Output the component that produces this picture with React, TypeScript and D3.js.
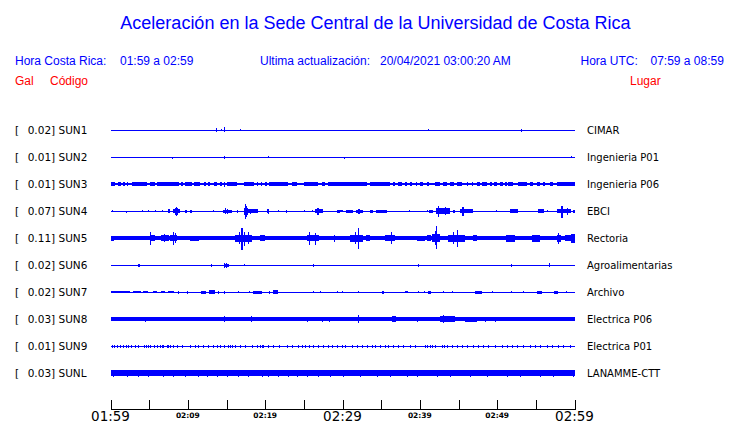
import React from "react";
import * as d3 from "d3";

// ---------- DATA ----------
const stations = ["SUN1", "SUN2", "SUN3", "SUN4", "SUN5", "SUN6", "SUN7", "SUN8", "SUN9", "SUNL"];
const peakGal = ["0.02", "0.01", "0.01", "0.07", "0.11", "0.02", "0.02", "0.03", "0.01", "0.03"];
const places = ["CIMAR", "Ingenieria P01", "Ingenieria P06", "EBCI", "Rectoria", "Agroalimentarias", "Archivo", "Electrica P06", "Electrica P01", "LANAMME-CTT"];
// background noise half-amplitude of each trace (relative units)
const baseAmp = [0.5, 0.5, 1, 0.5, 2, 0.5, 0.5, 1.7, 0.5, 2.7];

// events: [startMinute, endMinute, amplitudeUp, amplitudeDown]
type Ev = [number, number, number, number];
const sun1Events: Ev[] = [
  [13.7, 13.7, 2, 2], [14.3, 14.3, 1, 1], [14.7, 14.7, 3, 2], [16.7, 16.7, 1, 1],
  [41.0, 41.0, 1, 0], [53.1, 53.1, 1.5, 1.5],
];
const sun2Events: Ev[] = [
  [7.9, 7.9, 0, 1.5], [14.7, 14.7, 1.5, 1.5], [20.4, 20.4, 1, 0], [30.2, 30.2, 0, 1.5], [59.5, 59.5, 1, 0],
];
const sun3Events: Ev[] = [
  [0, 0.58, 1.7, 1.7], [1.01, 1.36, 1.7, 1.7], [1.66, 1.88, 1.7, 1.7], [2.09, 2.31, 1.7, 1.7], [2.74, 4.68, 1.7, 1.7],
  [5.11, 5.76, 1.7, 1.7], [5.97, 8.86, 1.7, 1.7], [9.12, 9.42, 1.7, 1.7], [9.63, 10.58, 1.7, 1.7], [10.84, 11.57, 1.7, 1.7],
  [12.13, 12.35, 1.7, 1.7], [12.65, 12.87, 1.7, 1.7], [13.43, 13.73, 1.7, 1.7], [14.16, 14.38, 1.7, 1.7], [14.72, 14.72, 1.7, 3],
  [15.02, 16.32, 1.7, 1.7], [17.31, 18.6, 1.7, 1.7], [18.9, 19.12, 1.7, 1.7], [19.46, 19.63, 1.7, 1.7], [19.98, 20.2, 1.7, 1.7],
  [20.5, 23.0, 1.7, 1.7], [23.43, 24.07, 1.7, 1.7], [25.07, 26.88, 1.7, 1.7], [27.31, 27.74, 1.7, 1.7], [28.08, 30.32, 1.7, 1.7],
  [29.68, 33.13, 1.7, 1.7], [33.56, 36.15, 1.7, 1.7], [36.49, 36.79, 1.7, 1.7], [37.22, 37.65, 1.7, 1.7], [38.09, 38.3, 1.7, 1.7],
  [38.73, 38.95, 1.7, 1.7], [39.51, 39.51, 1.7, 1.7], [40.02, 40.46, 1.7, 1.7], [40.97, 41.23, 1.7, 1.7], [41.96, 42.61, 1.7, 1.7],
  [43.04, 43.47, 1.7, 1.7], [43.9, 44.42, 1.7, 1.7], [44.77, 45.41, 1.7, 1.7], [46.06, 46.28, 1.7, 1.7], [46.71, 46.92, 1.7, 1.7],
  [47.35, 47.78, 1.7, 1.7], [48.0, 48.65, 1.7, 1.7], [49.08, 49.29, 1.7, 1.7], [49.59, 49.94, 1.7, 1.7], [50.37, 50.8, 1.7, 1.7],
  [51.02, 51.23, 1.7, 1.7], [51.45, 52.09, 1.7, 1.7], [52.74, 53.82, 1.7, 1.7], [54.25, 54.68, 1.7, 1.7], [55.11, 55.54, 1.7, 1.7],
  [55.97, 56.19, 1.7, 1.7], [56.84, 57.27, 1.7, 1.7], [57.7, 60, 1.7, 1.7],
];
const sun4Events: Ev[] = [
  [0.2, 0.2, 1, 1], [1.96, 1.96, 0, 1.5], [4.1, 4.1, 1, 1], [4.9, 4.9, 1, 1], [5.75, 5.75, 1, 1],
  [6.6, 6.6, 1, 1], [7.4, 7.7, 2, 2], [8.1, 9.0, 2, 2], [8.3, 8.7, 3, 3.5], [8.45, 8.55, 4, 5], [9.6, 9.85, 1.5, 1.5],
  [10.3, 10.5, 1.5, 1.5], [13.3, 13.3, 1, 1], [14.6, 15.7, 1.5, 1.5], [14.8, 14.8, 3, 3], [15.1, 15.1, 2, 2.5], [16.4, 16.4, 1, 1.5],
  [17.2, 17.8, 3.5, 3.5], [17.35, 17.45, 7, 7.7], [17.55, 17.6, 5, 5.5], [17.8, 19.1, 2, 2], [18.1, 18.2, 2.5, 3], [20.2, 20.5, 2, 2], [20.35, 20.35, 2.5, 3],
  [21.6, 21.6, 1, 1], [22.7, 22.7, 1.5, 1.5], [25.0, 25.0, 1, 1], [26.0, 26.0, 1, 1], [26.4, 27.5, 2, 2],
  [26.7, 26.9, 3, 4], [29.3, 29.7, 1.5, 1.5], [29.7, 30.1, 1, 1], [30.5, 31.4, 1.5, 1.5], [31.8, 32.7, 1.5, 1.5],
  [32.0, 32.2, 2.5, 3], [33.6, 34.0, 1.5, 1.5], [34.3, 35.7, 1.5, 1.5], [38.6, 38.6, 1, 1], [40.9, 40.9, 1, 0],
  [41.2, 41.7, 1.5, 1.5], [42.1, 43.9, 3, 3], [42.3, 42.5, 5, 5.7], [43.2, 43.3, 4, 4], [44.3, 44.5, 1.5, 1.5],
  [45.2, 46.9, 2, 2], [45.5, 45.7, 4, 4.5], [49.9, 49.9, 1, 0], [51.7, 52.7, 2, 2], [55.3, 56.1, 2, 2],
  [56.4, 56.4, 1, 1], [57.7, 59.6, 2, 2], [58.3, 58.5, 5, 6.7], [59.0, 59.1, 3, 3.5], [59.8, 60, 1.5, 1.5],
];
const sun5Events: Ev[] = [
  [0, 0.5, 2.5, 2.5], [5.1, 5.7, 3, 3], [5.1, 5.2, 6, 6.7], [6.55, 7.5, 3, 3], [6.9, 7.0, 4, 4],
  [7.7, 8.55, 3, 3], [8.05, 8.15, 6, 7.3], [8.3, 8.4, 5, 5], [10.3, 11.4, 2.5, 2.5], [16.1, 18.3, 3.5, 3.5],
  [16.9, 17.1, 9.7, 12], [16.6, 16.7, 6, 6], [17.3, 17.4, 6, 8], [17.8, 17.9, 6, 6], [19.3, 20.0, 3, 3], [25.4, 26.9, 3, 3],
  [25.7, 25.8, 6, 7.3], [26.4, 26.5, 5, 6.5], [28.9, 29.0, 3.5, 3.5], [31.0, 32.7, 3.5, 3.5], [31.6, 31.7, 6, 6],
  [32.0, 32.1, 10, 10.7], [33.0, 33.6, 3, 3], [35.5, 36.8, 3, 3], [36.3, 36.45, 6, 6], [39.6, 40.7, 2.5, 2.5],
  [40.9, 41.5, 3, 3], [41.6, 42.6, 4, 4], [41.9, 42.0, 7, 7], [42.1, 42.2, 12, 10.7], [43.6, 45.8, 3.5, 3.5],
  [44.3, 44.4, 6, 6], [44.8, 44.9, 8, 8.7], [46.9, 47.35, 3, 3], [51.2, 52.3, 3.5, 3.5], [54.5, 55.5, 3.5, 3.5], [57.7, 58.3, 3.5, 3.5],
  [57.9, 58.0, 5, 6], [58.8, 60, 3, 3], [59.6, 60, 4.5, 4.5],
];
const sun6Events: Ev[] = [
  [3.6, 3.8, 1.5, 1.5], [13.0, 13.0, 1.5, 1.5], [14.7, 14.7, 2.5, 2.5], [14.95, 14.95, 2.5, 2.5],
  [14.7, 15.3, 1.5, 1.5], [17.2, 17.2, 1, 1], [26.2, 26.2, 1.5, 1.5], [32.35, 32.35, 0, 1],
  [39.7, 39.7, 1.5, 1.5], [51.75, 51.75, 1.5, 1.5], [56.75, 56.75, 2, 2],
];
const sun7Events: Ev[] = [
  [0.07, 2.52, 1.2, 1.2], [2.95, 3.95, 1.2, 1.2], [4.25, 4.89, 1.2, 1.2], [5.54, 6.06, 1.2, 1.2],
  [6.53, 7.05, 1.2, 1.2], [7.48, 8.26, 1.2, 1.2], [8.69, 8.69, 1.5, 1.5], [9.85, 9.85, 1.5, 1.5],
  [11.7, 12.31, 1.5, 1.5], [12.74, 13.51, 2, 2], [13.95, 13.95, 1.5, 1.5], [14.72, 14.72, 1.5, 1.5],
  [16.53, 16.53, 1, 1], [17.91, 17.91, 1, 1], [18.47, 19.55, 1.5, 1.5], [20.54, 20.54, 1.5, 1.5],
  [21.06, 21.7, 2, 2], [26.23, 26.23, 1, 1], [27.09, 27.09, 1, 1], [29.25, 29.25, 1, 1], [29.98, 29.98, 1, 1],
  [32.05, 32.05, 1, 1], [35.1, 35.4, 1.5, 1.5], [38.1, 38.5, 1.2, 1.2], [39.7, 39.7, 1, 1], [40.6, 40.6, 1, 1],
  [41.1, 41.5, 1.5, 1.5], [42.95, 42.95, 1, 1], [44.2, 44.2, 1, 1], [47.1, 48.0, 1.5, 1.5], [49.3, 49.3, 1, 1],
  [51.75, 51.75, 1, 1], [53.3, 53.3, 1, 1], [55.1, 55.75, 1.5, 1.5], [57.3, 57.9, 1.5, 1.5], [58.9, 58.9, 1, 1],
];
const sun8Events: Ev[] = [
  [4.4, 4.4, 2.5, 2.5], [14.7, 14.7, 3, 3], [18.2, 18.2, 3, 3], [25.45, 25.45, 2.5, 2.5], [27.4, 27.4, 2.5, 2.5],
  [28.2, 28.2, 2.5, 2.5], [29.7, 30.9, 2.2, 2.2], [32.05, 32.15, 4, 4], [33.3, 34.85, 2.2, 2.2],
  [36.4, 36.9, 3, 3], [39.6, 39.6, 2.5, 2.5], [41.3, 42.6, 2.2, 2.2], [42.6, 44.55, 3, 3], [43.0, 43.1, 4, 4],
  [45.85, 47.35, 2.5, 2.5], [48.4, 48.4, 2.5, 2.5], [49.7, 49.7, 2.5, 2.5], [51.4, 52.2, 2.2, 2.2],
  [52.8, 53.6, 2.2, 2.2], [54.2, 55.0, 2.2, 2.2], [55.5, 56.3, 2.2, 2.2], [57.0, 57.6, 2.2, 2.2], [58.4, 60, 2.2, 2.2],
];
const sun9Ticks = [
  0.15, 0.5, 0.8, 1.23, 1.66, 1.96, 2.3, 2.65, 3.17, 3.6, 4.38, 4.6, 4.81, 5.11, 5.67, 5.97, 6.4, 6.62, 6.83,
  7.26, 7.48, 7.7, 8.1, 8.56, 9.2, 10.28, 10.93, 11.36, 12.0, 12.65, 13.3, 13.73, 14.16, 14.72, 15.24, 15.45,
  15.67, 16.1, 16.75, 17.4, 18.26, 18.9, 19.33, 19.55, 19.76, 20.4, 21.06, 21.79, 22.78, 23.43, 24.2, 24.72,
  25.15, 25.67, 26.23, 26.88, 27.52, 28.08, 28.6, 29.25, 29.9, 30.33, 31.19, 31.84, 32.48, 33.13, 33.77, 34.21,
  34.85, 35.5, 35.93, 36.58, 37.22, 37.87, 38.73, 39.38, 40.67, 40.95, 41.25, 41.55, 41.96, 42.83, 43.15, 43.47,
  44.12, 44.77, 45.41, 46.06, 46.92, 47.57, 48.21, 48.86, 49.72, 50.59, 51.23, 51.88, 52.52, 53.39, 54.25,
  54.9, 55.54, 56.4, 57.05, 57.91, 58.56, 59.42,
];
const sun9TickAmp = 1.5;
const sunLTicks = [
  0.37, 2.09, 3.6, 4.89, 6.83, 8.13, 9.63, 11.36, 12.44, 13.73, 15.02, 16.53, 17.82, 19.55, 20.41, 21.7, 23.0,
  24.07, 25.37, 26.88, 28.4, 30.11, 32.27, 34.42, 36.15, 38.3, 39.6, 42.18, 43.9, 46.49, 48.65, 51.23, 52.96,
  55.54, 57.27, 59.85,
];
const sunLTickUp = 3.5;
const sunLTickDown = 4;

const tickMinutes = [0, 5, 10, 15, 20, 25, 30, 35, 40, 45, 50, 55, 60];
const labelMinutes = [0, 10, 20, 30, 40, 50, 60];
const labelTexts = ["01:59", "02:09", "02:19", "02:29", "02:39", "02:49", "02:59"];
const labelMajor = [true, false, false, true, false, false, true];

const BLUE = "#0000ff";
const RED = "#ff0000";
const SANS = "'Liberation Sans', Arial, sans-serif";
const DEJA = "'DejaVu Sans', sans-serif";

export default function App() {
  const W = 740, H = 423;
  const x = d3.scaleLinear().domain([0, 60]).range([110.5, 574.5]);
  const y = d3.scalePoint<string>().domain(stations).range([130, 373]);
  const a = d3.scaleLinear().domain([0, 1]).range([0, 1]);

  const tickEv = (ticks: number[], up: number, down: number): Ev[] => ticks.map((m) => [m, m + 0.12, up, down]);
  const allEvents: Ev[][] = [
    sun1Events, sun2Events, sun3Events, sun4Events, sun5Events, sun6Events, sun7Events, sun8Events,
    tickEv(sun9Ticks, sun9TickAmp, sun9TickAmp), tickEv(sunLTicks, sunLTickUp, sunLTickDown),
  ];

  return (
    <svg width={W} height={H} style={{ position: "absolute", left: 0, top: 0, background: "#fff" }}>
      <rect x={0} y={0} width={W} height={H} fill="#fff" />
      <text x={375.5} y={29} textAnchor="middle" fontFamily={SANS} fontSize={18} fill={BLUE}>
        Aceleración en la Sede Central de la Universidad de Costa Rica
      </text>
      <g fontFamily={SANS} fontSize={12} fill={BLUE}>
        <text x={15} y={65}>Hora Costa Rica:</text>
        <text x={120} y={65}>01:59 a 02:59</text>
        <text x={260} y={65}>Ultima actualización:</text>
        <text x={380} y={65}>20/04/2021 03:00:20 AM</text>
        <text x={580.5} y={65}>Hora UTC:</text>
        <text x={650.5} y={65}>07:59 a 08:59</text>
      </g>
      <g fontFamily={SANS} fontSize={12} fill={RED}>
        <text x={15} y={85}>Gal</text>
        <text x={50} y={85}>Código</text>
        <text x={630} y={85}>Lugar</text>
      </g>

      {stations.map((s, i) => {
        const y0 = y(s)!;
        return (
          <g key={s}>
            <text x={15} y={y0 + 4} fontFamily={DEJA} fontSize={10.5} fill="#000">[</text>
            <text x={27.7} y={y0 + 4} fontFamily={DEJA} fontSize={10.5} fill="#000">{`${peakGal[i]}] ${s}`}</text>
            <text x={587} y={y0 + 4} fontFamily={DEJA} fontSize={10} fill="#000">{places[i]}</text>
            <g fill={BLUE} shapeRendering="crispEdges">
              <rect x={x(0)} y={y0 - a(baseAmp[i])} width={x(60) - x(0)} height={2 * a(baseAmp[i])} />
              {allEvents[i].map((e, j) => {
                const x1 = x(e[0]);
                const w = Math.max(1, x(e[1]) - x1);
                return <rect key={j} x={x1} y={y0 - a(e[2])} width={w} height={a(e[2]) + a(e[3])} />;
              })}
            </g>
          </g>
        );
      })}

      <g shapeRendering="crispEdges" stroke="#000" strokeWidth={1}>
        <line x1={x(0)} x2={x(60)} y1={409.5} y2={409.5} />
        {tickMinutes.map((m) => (
          <line key={m} x1={Math.round(x(m)) + 0.5} x2={Math.round(x(m)) + 0.5} y1={400} y2={409.5} />
        ))}
      </g>
      {labelMinutes.map((m, i) => (
        <text
          key={m}
          x={x(m)}
          y={labelMajor[i] ? 421 : 418}
          textAnchor="middle"
          fontFamily={DEJA}
          fontSize={labelMajor[i] ? 13.5 : 7.5}
          fontWeight={labelMajor[i] ? "normal" : "bold"}
          fill="#000"
        >
          {labelTexts[i]}
        </text>
      ))}
    </svg>
  );
}
